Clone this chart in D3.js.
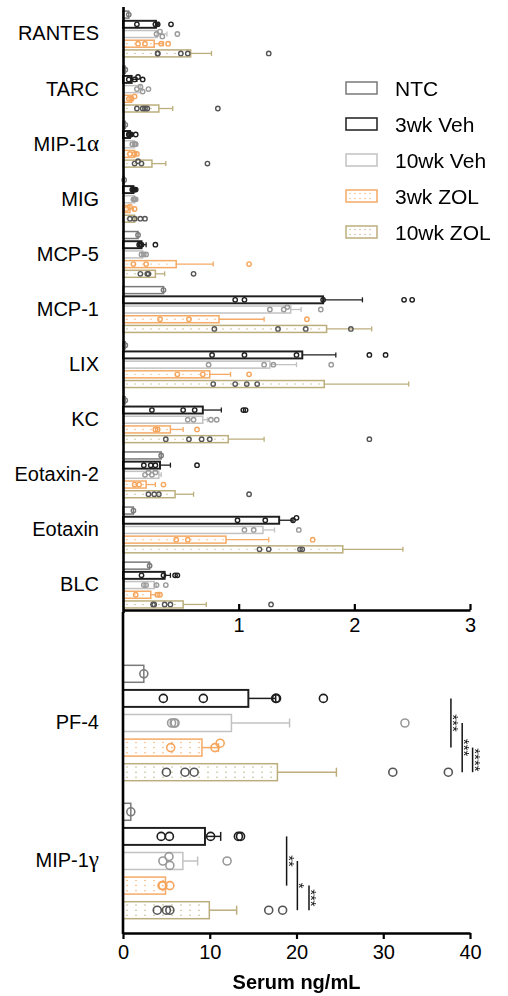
<!DOCTYPE html>
<html><head><meta charset="utf-8">
<script src="https://cdn.jsdelivr.net/npm/d3@7"></script>
<style>body{margin:0;background:#fff;} text{font-family:"Liberation Sans",Arial,sans-serif;}</style>
</head><body><svg id="c" width="508" height="996"></svg>
<script>
// ---------------- DATA ----------------
const groups = ["NTC", "3wk Veh", "10wk Veh", "3wk ZOL", "10wk ZOL"];
const topCats = ["RANTES", "TARC", "MIP-1α", "MIG", "MCP-5", "MCP-1", "LIX", "KC", "Eotaxin-2", "Eotaxin", "BLC"];
const topMean = [
  [0.05, 0.285, 0.295, 0.27, 0.585],
  [0.02, 0.075, 0.15, 0.075, 0.31],
  [0.02, 0.06, 0.10, 0.10, 0.25],
  [0.01, 0.09, 0.10, 0.06, 0.10],
  [0.13, 0.16, 0.17, 0.46, 0.28],
  [0.35, 1.73, 1.45, 0.83, 1.76],
  [0.02, 1.55, 1.27, 0.75, 1.74],
  [0.02, 0.69, 0.69, 0.41, 0.91],
  [0.33, 0.32, 0.31, 0.20, 0.45],
  [0.09, 1.35, 1.21, 0.89, 1.90],
  [0.23, 0.36, 0.27, 0.24, 0.52]
];
const topErr = [
  [null, 0.31, 0.38, 0.35, 0.765],
  [null, 0.12, 0.17, 0.09, 0.43],
  [null, 0.08, 0.11, 0.11, 0.37],
  [null, 0.10, 0.11, 0.09, 0.12],
  [null, 0.20, 0.19, 0.78, 0.36],
  [null, 2.07, 1.54, 1.22, 2.15],
  [null, 1.84, 1.50, 0.93, 2.47],
  [null, 0.85, 0.73, 0.52, 1.22],
  [null, 0.41, 0.33, 0.28, 0.61],
  [null, 1.47, 1.31, 1.26, 2.42],
  [null, 0.41, 0.29, 0.28, 0.72]
];
const topDots = [
  [[0.05], [0.12, 0.28, 0.30, 0.415], [0.29, 0.32, 0.34, 0.47], [0.13, 0.19, 0.33, 0.39], [0.30, 0.30, 0.50, 0.56, 1.26]],
  [[0.02], [0.05, 0.10, 0.13, 0.17], [0.12, 0.15, 0.17, 0.22], [0.05, 0.07, 0.10], [0.12, 0.17, 0.19, 0.21, 0.82]],
  [[0.02], [0.05, 0.06, 0.07, 0.11], [0.08, 0.10, 0.11], [0.06, 0.10, 0.12], [0.10, 0.13, 0.16, 0.73]],
  [[0.01], [0.08, 0.09, 0.10, 0.11], [0.09, 0.10, 0.11], [0.03, 0.06, 0.10], [0.06, 0.10, 0.15, 0.19]],
  [[0.13], [0.14, 0.15, 0.16, 0.28], [0.16, 0.18, 0.20], [0.09, 0.20, 1.09], [0.15, 0.21, 0.22, 0.61]],
  [[0.35], [0.97, 1.05, 1.73, 2.43, 2.50], [1.27, 1.39, 1.42, 1.71], [0.32, 0.57, 1.59], [0.79, 1.34, 1.58, 1.97]],
  [[0.02], [0.77, 1.05, 1.50, 2.13, 2.27], [0.74, 1.22, 1.30, 1.80], [0.47, 0.69, 1.09], [0.78, 0.97, 1.07, 1.16]],
  [[0.02], [0.25, 0.52, 0.62, 1.04, 1.06], [0.56, 0.61, 0.76, 0.81], [0.28, 0.30, 0.64], [0.37, 0.57, 0.68, 0.75, 2.13]],
  [[0.33], [0.18, 0.24, 0.28, 0.64], [0.19, 0.22, 0.25, 0.28], [0.10, 0.14, 0.35], [0.22, 0.27, 0.31, 1.09]],
  [[0.09], [0.99, 1.23, 1.47, 1.50], [1.05, 1.13, 1.52], [0.46, 0.56, 1.64], [1.18, 1.26, 1.53, 1.55]],
  [[0.23], [0.16, 0.35, 0.45, 0.47], [0.18, 0.20, 0.29, 0.37], [0.11, 0.30, 0.32], [0.26, 0.27, 0.36, 0.41, 1.28]]
];
const topTicks = [1, 2, 3];

const botCats = ["PF-4", "MIP-1γ"];
const botMean = [
  [2.4, 14.45, 12.5, 9.1, 17.8],
  [0.9, 9.45, 6.9, 4.9, 9.95]
];
const botErr = [
  [null, 17.6, 19.2, 11.0, 24.6],
  [null, 11.26, 8.6, null, 13.1]
];
const botDots = [
  [[2.4], [4.65, 9.26, 17.6, 17.7, 23.1], [5.6, 5.9, 6.0, 32.5], [5.5, 10.6, 11.2], [5.0, 7.15, 8.2, 31.1, 37.5]],
  [[0.9], [4.4, 5.35, 10.1, 13.3, 13.55], [4.6, 5.3, 5.4, 12.0], [4.5, 4.6, 5.4], [3.95, 5.0, 5.4, 16.8, 18.4]]
];
const botTicks = [0, 10, 20, 30, 40];
// significance: [fromGroup, toGroup, label, x-value]
const botSig = [
  [[1, 3, "***", 37.8], [2, 4, "***", 39.1], [3, 4, "****", 40.3]],
  [[1, 3, "**", 18.86], [2, 4, "*", 20.1], [3, 4, "***", 21.44]]
];
const axisTitle = "Serum ng/mL";

// ---------------- STYLE ----------------
const barStroke = ["#7a7a7a", "#1e1e1e", "#c2c2c2", "#f5aa66", "#bcae7c"];
const dotStroke = ["#7a7a7a", "#1e1e1e", "#9a9a9a", "#f5a55c", "#555555"];
const dotted = [false, false, false, true, true];

const svg = d3.select("#c");

const xTop = d3.scaleLinear().domain([0, 3]).range([123, 470]);
const yTop = d3.scaleBand().domain(topCats).range([6.45, 612.6]);
const yTopIn = d3.scaleBand().domain(groups).range([0, yTop.bandwidth()]).paddingInner(0.28).paddingOuter(0.48);

const xBot = d3.scaleLinear().domain([0, 40]).range([123, 470]);
const yBot = d3.scaleBand().domain(botCats).range([654, 930]);
const yBotIn = d3.scaleBand().domain(groups).range([0, yBot.bandwidth()]).paddingInner(0.31).paddingOuter(0.46);

function jitter(vals, x, r, maxDy) {
  const placed = [];
  const sorted = vals.map((v, i) => ({v, px: x(v)})).sort((a, b) => a.px - b.px);
  sorted.forEach(d => {
    const cands = [0, -r * 1.1, r * 1.1, -r * 2, r * 2].filter(c => Math.abs(c) <= maxDy);
    let best = cands[0];
    for (const c of cands) {
      const ok = placed.every(p => Math.hypot(p.px - d.px, p.dy - c) >= r * 1.7);
      if (ok) { best = c; break; }
    }
    d.dy = best;
    placed.push(d);
  });
  return sorted;
}

function drawPanel(cats, means, errs, dots, x, y, yIn, opts) {
  const g = svg.append("g");
  const bh = yIn.bandwidth();
  cats.forEach((cat, ci) => {
    groups.forEach((grp, gi) => {
      const y0 = y(cat) + yIn(grp);
      const m = means[ci][gi];
      const cg = g.append("g");
      const e = errs[ci][gi];
      if (e != null && e > m) {
        cg.append("line").attr("x1", x(m)).attr("x2", x(e)).attr("y1", y0 + bh / 2).attr("y2", y0 + bh / 2)
          .attr("stroke", barStroke[gi]).attr("stroke-width", opts.ew);
        cg.append("line").attr("x1", x(e)).attr("x2", x(e)).attr("y1", y0 + bh / 2 - opts.cap).attr("y2", y0 + bh / 2 + opts.cap)
          .attr("stroke", barStroke[gi]).attr("stroke-width", opts.ew);
      }
      cg.append("rect").attr("x", x(0)).attr("y", y0).attr("width", Math.max(0, x(m) - x(0))).attr("height", bh)
        .attr("fill", "#fff").attr("stroke", barStroke[gi]).attr("stroke-width", gi === 1 ? opts.sw * 1.3 : opts.sw);
      if (dotted[gi] && x(m) - x(0) > 6) {
        opts.rows.forEach(fr => {
          cg.append("line").attr("x1", x(0) + 4).attr("x2", x(m) - 2)
            .attr("y1", y0 + bh * fr).attr("y2", y0 + bh * fr)
            .attr("stroke", barStroke[gi]).attr("stroke-width", opts.dd)
            .attr("stroke-linecap", "round").attr("stroke-dasharray", "0 " + opts.dgap);
        });
      }
      const pts = jitter(dots[ci][gi], x, opts.r, bh / 2 - 1);
      cg.selectAll("circle.pt").data(pts).join("circle").attr("class", "pt")
        .attr("cx", d => d.px).attr("cy", d => y0 + bh / 2 + d.dy).attr("r", opts.r)
        .attr("fill", "none").attr("stroke", dotStroke[gi]).attr("stroke-width", opts.rw);
    });
  });
  return g;
}

drawPanel(topCats, topMean, topErr, topDots, xTop, yTop, yTopIn,
  {sw: 1.5, ew: 1.3, cap: 2.5, r: 2.2, rw: 1.4, rows: [0.5], dd: 1.4, dgap: 8});
drawPanel(botCats, botMean, botErr, botDots, xBot, yBot, yBotIn,
  {sw: 1.5, ew: 1.5, cap: 4.5, r: 4, rw: 1.6, rows: [0.2, 0.5, 0.8], dd: 1.5, dgap: 9});

// significance
const sigG = svg.append("g").attr("opacity", 0.99);
botCats.forEach((cat, ci) => {
  botSig[ci].forEach(([a, b, lab, xv]) => {
    const ya = yBot(cat) + yBotIn(groups[a]) + yBotIn.bandwidth() / 2;
    const yb = yBot(cat) + yBotIn(groups[b]) + yBotIn.bandwidth() / 2;
    const xx = xBot(xv);
    sigG.append("line").attr("x1", xx).attr("x2", xx).attr("y1", ya).attr("y2", yb)
      .attr("stroke", "#111").attr("stroke-width", 1.5);
    const ym = (ya + yb) / 2;
    sigG.append("text").attr("transform", `translate(${xx - 3},${ym}) rotate(90)`)
      .attr("text-anchor", "middle").attr("font-size", 15).attr("fill", "#111")
      .text(lab);
  });
});

// axes
function greek(sel) {
  sel.selectAll(".tick text").each(function(d) {
    const mm = d.match(/^(.*?)([αγ])$/);
    if (mm) {
      const t = d3.select(this); t.text(null);
      t.append("tspan").text(mm[1]);
      t.append("tspan").attr("font-family", "Liberation Serif").attr("font-size", 23).text(mm[2]);
    }
  });
}
const gyTop = svg.append("g").attr("transform", "translate(123,0)")
  .call(d3.axisLeft(yTop).tickSize(0).tickPadding(24));
gyTop.select(".domain").attr("stroke", "#000").attr("stroke-width", 2.6);
gyTop.selectAll(".tick text").attr("font-size", 20).attr("font-family", "Liberation Sans").attr("fill", "#000");
greek(gyTop);

const gyBot = svg.append("g").attr("transform", "translate(123,0)")
  .call(d3.axisLeft(yBot).tickSize(0).tickPadding(24));
gyBot.select(".domain").remove();
gyBot.selectAll(".tick text").attr("font-size", 20).attr("font-family", "Liberation Sans").attr("fill", "#000");
greek(gyBot);
svg.append("line").attr("x1", 123).attr("x2", 123).attr("y1", 612).attr("y2", 934)
  .attr("stroke", "#000").attr("stroke-width", 2.6);

const gxTop = svg.append("g").attr("transform", "translate(0,610)")
  .call(d3.axisBottom(xTop).tickValues(topTicks).tickSizeInner(-6).tickSizeOuter(0).tickPadding(8).tickFormat(d3.format("d")));
gxTop.select(".domain").attr("stroke", "#000").attr("stroke-width", 2.6);
gxTop.selectAll(".tick line").attr("stroke", "#000").attr("stroke-width", 2.2);
gxTop.selectAll(".tick text").attr("font-size", 20).attr("font-family", "Liberation Sans").attr("fill", "#000");

const gxBot = svg.append("g").attr("transform", "translate(0,933)")
  .call(d3.axisBottom(xBot).tickValues(botTicks).tickSizeInner(6).tickSizeOuter(0).tickPadding(6).tickFormat(d3.format("d")));
gxBot.select(".domain").attr("stroke", "#000").attr("stroke-width", 2.6);
gxBot.selectAll(".tick line").attr("stroke", "#000").attr("stroke-width", 2.2);
gxBot.selectAll(".tick text").attr("font-size", 20).attr("font-family", "Liberation Sans").attr("fill", "#000");

svg.append("text").attr("x", (xBot.range()[0] + xBot.range()[1]) / 2).attr("y", 989)
  .attr("text-anchor", "middle").attr("font-size", 20).attr("font-weight", "bold").attr("fill", "#000").text(axisTitle);

// legend
const lg = svg.append("g");
groups.forEach((grp, gi) => {
  const cy = 88 + gi * 36;
  lg.append("rect").attr("x", 346).attr("y", cy - 6).attr("width", 31).attr("height", 12)
    .attr("fill", "#fff").attr("stroke", barStroke[gi]).attr("stroke-width", 1.5);
  if (dotted[gi]) {
    [cy - 2.5, cy + 2.5].forEach(yy => {
      lg.append("line").attr("x1", 350).attr("x2", 375).attr("y1", yy).attr("y2", yy)
        .attr("stroke", barStroke[gi]).attr("stroke-width", 1.3).attr("stroke-linecap", "round").attr("stroke-dasharray", "0 5");
    });
  }
  lg.append("text").attr("x", 395).attr("y", cy).attr("dy", "0.36em").attr("font-size", 21).attr("fill", "#000").text(grp);
});
</script></body></html>
